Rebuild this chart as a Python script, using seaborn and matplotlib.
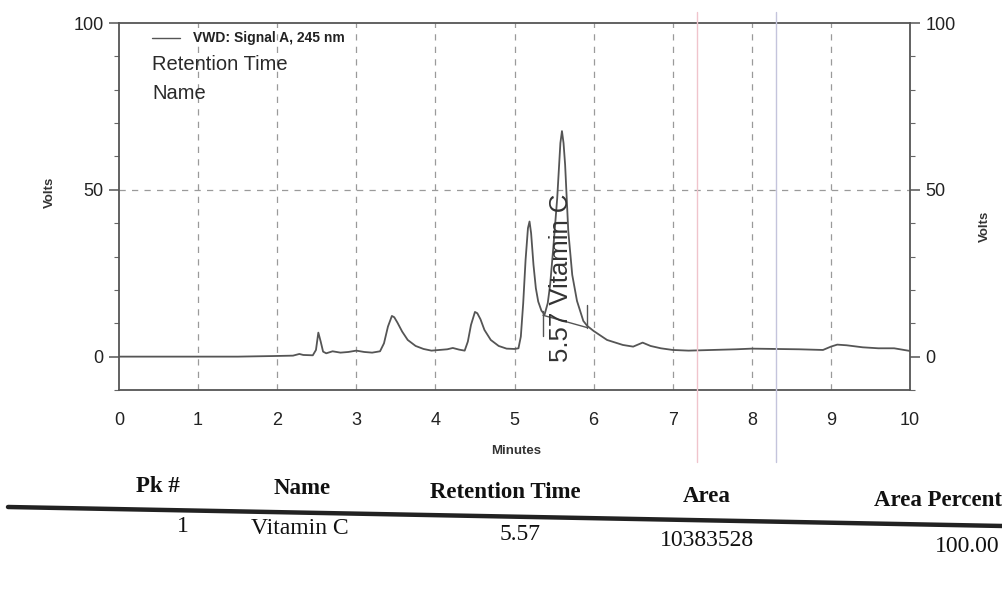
import matplotlib
matplotlib.use("Agg")
import matplotlib.pyplot as plt
import seaborn as sns
import pandas as pd
from matplotlib.ticker import MultipleLocator
from matplotlib.lines import Line2D

# ---- chromatogram trace ----
time_min = [0.0, 0.5, 1.0, 1.5, 2.0, 2.2, 2.28, 2.33, 2.45, 2.49, 2.52, 2.55, 2.58, 2.62,
            2.7, 2.8, 2.9, 3.0, 3.1, 3.2, 3.3, 3.35, 3.4, 3.45, 3.48, 3.52, 3.58, 3.65,
            3.75, 3.85, 3.95, 4.05, 4.15, 4.22, 4.3, 4.37, 4.41, 4.45, 4.5, 4.53, 4.57,
            4.62, 4.7, 4.8, 4.9, 5.0, 5.05, 5.08, 5.11, 5.14, 5.17, 5.19, 5.21, 5.24,
            5.27, 5.3, 5.34, 5.38, 5.42, 5.45, 5.49, 5.54, 5.58, 5.6, 5.62, 5.64, 5.68,
            5.73, 5.79, 5.87, 5.92, 6.0, 6.17, 6.37, 6.5, 6.62, 6.72, 6.85, 7.0, 7.2,
            7.5, 7.8, 8.0, 8.3, 8.6, 8.9, 9.0, 9.08, 9.2, 9.4, 9.6, 9.8, 10.0]
signal_v = [0.0, 0.0, 0.0, 0.0, 0.2, 0.3, 0.8, 0.5, 0.4, 2.0, 7.2, 4.5, 1.5, 1.0,
            1.6, 1.2, 1.4, 1.8, 1.4, 1.2, 1.6, 4.0, 9.0, 12.2, 11.8, 10.2, 7.5, 5.0,
            3.2, 2.3, 1.8, 2.0, 2.2, 2.6, 2.1, 1.8, 4.5, 9.5, 13.4, 13.0, 11.2,
            8.0, 5.0, 3.2, 2.4, 2.3, 2.5, 6.0, 16.0, 29.0, 38.5, 40.5, 37.0, 27.5,
            20.5, 16.5, 13.8, 12.6, 16.0, 21.4, 32.5, 47.5, 64.0, 67.6, 64.0, 57.5, 37.6,
            24.5, 16.7, 10.7, 9.2, 7.7, 5.0, 3.5, 3.0, 4.2, 3.2, 2.5, 2.0, 1.8,
            2.0, 2.2, 2.4, 2.3, 2.2, 2.0, 3.0, 3.6, 3.4, 2.8, 2.5, 2.5, 1.7]

# integration baseline and peak markers
baseline_t = [5.36, 5.92]
baseline_v = [12.4, 8.7]
marker_start_v = [6.1, 13.6]
marker_end_v = [8.7, 15.4]
peak_label = "5.57 Vitamin C"
peak_label_t = 5.585

# axis ticks
x_ticks = list(range(0, 11))
y_ticks = [0, 50, 100]
axis_unit = "Volts"
x_title = "Minutes"

# legend texts
signal_name = "VWD: Signal A, 245 nm"
legend_lines = ["Retention Time", "Name"]

# ---- results table ----
table_headers = ["Pk #", "Name", "Retention Time", "Area", "Area Percent"]
row_pk = "1"
row_name = "Vitamin C"
row_rt = "5.57"
row_area = "10383528"
row_pct = "100.00"

sns.set_theme(style="white")
plt.rcParams['font.family'] = ['Liberation Sans', 'DejaVu Sans']

W, H = 1003, 597
fig = plt.figure(figsize=(W / 100, H / 100), dpi=100)
fig.patch.set_facecolor('white')

def fx(px):
    return px / W

def fy(py):
    return 1 - py / H

ax = fig.add_axes([fx(119), fy(390), fx(910) - fx(119), fy(23) - fy(390)])
df = pd.DataFrame({'Minutes': time_min, 'Volts': signal_v})
sns.lineplot(data=df, x='Minutes', y='Volts', ax=ax, color='#555555', lw=1.3,
             estimator=None, sort=False, zorder=3)
ax.set_xlim(0, 10)
ax.set_ylim(-10, 100)

# grid
for t in x_ticks[1:-1]:
    ax.axvline(t, color='#9a9a9a', lw=0.9, ls=(0, (5, 5)), zorder=1)
ax.axhline(50, color='#9a9a9a', lw=0.9, ls=(0, (5, 5)), zorder=1)

# integration baseline + markers
ax.plot(baseline_t, baseline_v, color='#555555', lw=1.0, zorder=3)
ax.plot([baseline_t[0]] * 2, marker_start_v, color='#555555', lw=1.0, zorder=3)
ax.plot([baseline_t[1]] * 2, marker_end_v, color='#555555', lw=1.0, zorder=3)
ax.text(peak_label_t, -1.6, peak_label, rotation=90, ha='center', va='bottom',
        fontsize=18.5, color='#333333')

# spines & ticks
for s in ax.spines.values():
    s.set_color('#555555')
    s.set_linewidth(1.3)
    s.set_visible(True)
ax.set_xticks(x_ticks)
ax.set_yticks(y_ticks)
ax.xaxis.set_minor_locator(MultipleLocator(0.1))
ax.yaxis.set_minor_locator(MultipleLocator(10))
ax.tick_params(axis='both', which='major', direction='out', length=7, width=1.1,
               color='#555555', labelsize=13, labelcolor='#222222')
ax.tick_params(axis='both', which='minor', direction='out', length=3.5, width=0.8,
               color='#666666')
ax.tick_params(axis='x', which='major', pad=9)
ax.tick_params(axis='y', which='major', pad=4)
ax.set_xlabel("")
ax.set_ylabel("")

ax2 = ax.twinx()
ax2.set_ylim(-10, 100)
ax2.set_yticks(y_ticks)
ax2.yaxis.set_minor_locator(MultipleLocator(10))
ax2.tick_params(axis='y', which='major', direction='out', length=7, width=1.1,
                color='#555555', labelsize=13, labelcolor='#222222', pad=4)
ax2.tick_params(axis='y', which='minor', direction='out', length=3.5, width=0.8,
                color='#666666')
for s in ax2.spines.values():
    s.set_visible(False)
ax2.grid(False)

# axis titles (placed as in the printout)
fig.text(fx(516), fy(451), x_title, fontsize=9.5, fontweight='bold', color='#333333',
         ha='center', va='center')
fig.text(fx(50), fy(192), axis_unit, fontsize=9.5, fontweight='bold', color='#333333',
         ha='center', va='center', rotation=90)
fig.text(fx(985), fy(226), axis_unit, fontsize=9.5, fontweight='bold', color='#333333',
         ha='center', va='center', rotation=90)

# legend-like header inside the plot
ax.plot([0.042, 0.077], [0.959, 0.959], transform=ax.transAxes, color='#555555', lw=1.0)
ax.text(0.094, 0.959, signal_name, transform=ax.transAxes, fontsize=10, fontweight='bold',
        va='center', ha='left', color='#222222')
ax.text(0.042, 0.886, legend_lines[0], transform=ax.transAxes, fontsize=14.5,
        va='center', ha='left', color='#2a2a2a')
ax.text(0.042, 0.809, legend_lines[1], transform=ax.transAxes, fontsize=14.5,
        va='center', ha='left', color='#2a2a2a')

# ---- table ----
serif = ['Liberation Serif', 'DejaVu Serif']
hdr_pos = [(158, 486), (302, 488), (505, 492), (707, 496), (938, 500)]
for txt, (px, py) in zip(table_headers, hdr_pos):
    fig.text(fx(px), fy(py), txt, ha='center', va='center', fontsize=16.5,
             fontweight='bold', family=serif, color='#111111')
row_vals = [row_pk, row_name, row_rt, row_area, row_pct]
row_pos = [(183, 527), (300, 529), (520, 535), (707, 540), (967, 546)]
for txt, (px, py) in zip(row_vals, row_pos):
    fig.text(fx(px), fy(py), txt, ha='center', va='center', fontsize=17,
             family=serif, color='#111111')
fig.add_artist(Line2D([fx(8), fx(1003)], [fy(507), fy(526)], color='#222222', lw=3.2))

# faint scan artifacts (vertical lines)
fig.add_artist(Line2D([fx(697), fx(697)], [fy(12), fy(462)], color='#f0c4cc', lw=1.0))
fig.add_artist(Line2D([fx(776), fx(776)], [fy(12), fy(462)], color='#c4c4dc', lw=1.0))

fig.savefig("out.png", dpi=100, facecolor='white')
